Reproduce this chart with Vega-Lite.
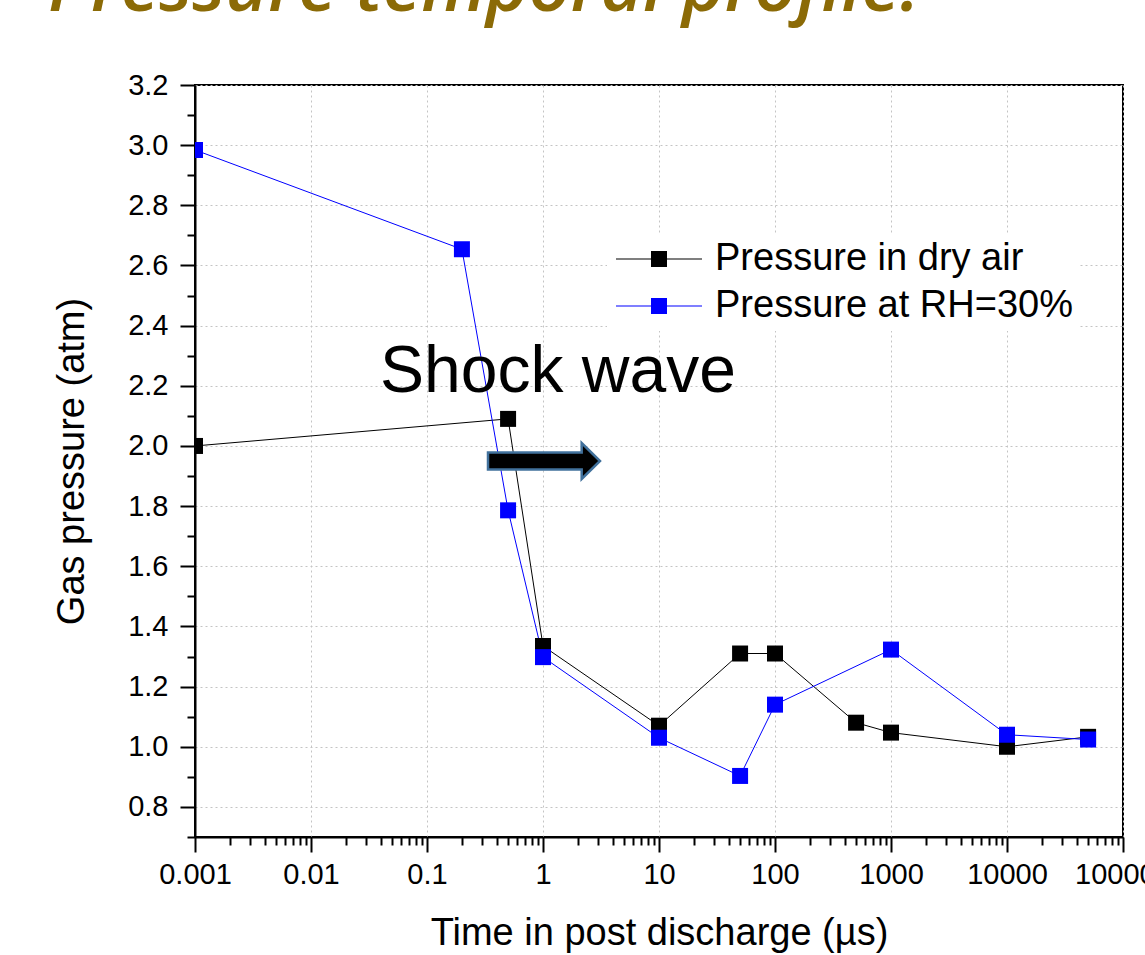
{
  "$schema": "https://vega.github.io/schema/vega-lite/v6.json",
  "width": 928,
  "height": 752,
  "autosize": "none",
  "padding": {"left": 195, "top": 85, "right": 22, "bottom": 118},
  "background": "white",
  "title": {
    "text": "Pressure temporal profile.",
    "anchor": "start",
    "frame": "group",
    "dx": -147,
    "dy": 13,
    "offset": 0,
    "baseline": "alphabetic",
    "font": "Open Sans",
    "fontStyle": "italic",
    "fontWeight": 600,
    "fontSize": 73,
    "color": "#8B6A06"
  },
  "datasets": {
    "series": [
      {"t": 0.001, "p": 2.0, "series": "Pressure in dry air"},
      {"t": 0.5, "p": 2.09, "series": "Pressure in dry air"},
      {"t": 1, "p": 1.335, "series": "Pressure in dry air"},
      {"t": 10, "p": 1.07, "series": "Pressure in dry air"},
      {"t": 50, "p": 1.31, "series": "Pressure in dry air"},
      {"t": 100, "p": 1.31, "series": "Pressure in dry air"},
      {"t": 500, "p": 1.08, "series": "Pressure in dry air"},
      {"t": 1000, "p": 1.047, "series": "Pressure in dry air"},
      {"t": 10000, "p": 1.0, "series": "Pressure in dry air"},
      {"t": 50000, "p": 1.033, "series": "Pressure in dry air"},
      {"t": 0.001, "p": 2.984, "series": "Pressure at RH=30%"},
      {"t": 0.2, "p": 2.654, "series": "Pressure at RH=30%"},
      {"t": 0.5, "p": 1.786, "series": "Pressure at RH=30%"},
      {"t": 1, "p": 1.298, "series": "Pressure at RH=30%"},
      {"t": 10, "p": 1.03, "series": "Pressure at RH=30%"},
      {"t": 50, "p": 0.903, "series": "Pressure at RH=30%"},
      {"t": 100, "p": 1.14, "series": "Pressure at RH=30%"},
      {"t": 1000, "p": 1.323, "series": "Pressure at RH=30%"},
      {"t": 10000, "p": 1.04, "series": "Pressure at RH=30%"},
      {"t": 50000, "p": 1.024, "series": "Pressure at RH=30%"}
    ],
    "notes": [
      {"t": 0.0394, "p": 2.178, "label": "Shock wave"}
    ],
    "arrow": [
      {"t": 1.02, "p": 1.95}
    ]
  },
  "encoding": {
    "x": {
      "field": "t",
      "type": "quantitative",
      "scale": {"type": "log", "domain": [0.001, 100000], "nice": false},
      "axis": {
        "title": "Time in post discharge (µs)",
        "values": [0.001,0.002,0.003,0.004,0.005,0.006,0.007,0.008,0.009,
                   0.01,0.02,0.03,0.04,0.05,0.06,0.07,0.08,0.09,
                   0.1,0.2,0.3,0.4,0.5,0.6,0.7,0.8,0.9,
                   1,2,3,4,5,6,7,8,9,
                   10,20,30,40,50,60,70,80,90,
                   100,200,300,400,500,600,700,800,900,
                   1000,2000,3000,4000,5000,6000,7000,8000,9000,
                   10000,20000,30000,40000,50000,60000,70000,80000,90000,
                   100000],
        "format": "~g",
        "labelExpr": "abs(log(datum.value)/LN10 - round(log(datum.value)/LN10)) < 0.001 ? datum.label : ''",
        "tickSize": {"condition": {"test": "abs(log(datum.value)/LN10 - round(log(datum.value)/LN10)) < 0.001", "value": 15}, "value": 8},
        "gridOpacity": {"condition": {"test": "abs(log(datum.value)/LN10 - round(log(datum.value)/LN10)) < 0.001", "value": 1}, "value": 0},
        "labelPadding": 8,
        "titlePadding": 25,
        "labelFlush": false,
        "labelOverlap": false
      }
    },
    "y": {
      "field": "p",
      "type": "quantitative",
      "scale": {"domain": [0.7, 3.2], "nice": false, "zero": false},
      "axis": {
        "title": "Gas pressure (atm)",
        "values": [0.7,0.8,0.9,1.0,1.1,1.2,1.3,1.4,1.5,1.6,1.7,1.8,1.9,2.0,2.1,2.2,2.3,2.4,2.5,2.6,2.7,2.8,2.9,3.0,3.1,3.2],
        "format": ".1f",
        "labelExpr": "abs(datum.value*5 - round(datum.value*5)) < 0.001 ? datum.label : ''",
        "tickSize": {"condition": {"test": "abs(datum.value*5 - round(datum.value*5)) < 0.001", "value": 15}, "value": 8},
        "gridOpacity": {"condition": {"test": "abs(datum.value*5 - round(datum.value*5)) < 0.001", "value": 1}, "value": 0},
        "labelPadding": 12,
        "titlePadding": 36,
        "labelFlush": false,
        "labelOverlap": false
      }
    }
  },
  "layer": [
    {
      "data": {"name": "series"},
      "mark": {"type": "line", "strokeWidth": 1, "clip": true},
      "encoding": {
        "color": {
          "field": "series",
          "type": "nominal",
          "scale": {"domain": ["Pressure in dry air", "Pressure at RH=30%"], "range": ["#000000", "#0000ff"]},
          "legend": {
            "title": null,
            "orient": "none",
            "legendX": 412,
            "legendY": 149,
            "padding": 6,
            "fillColor": "white",
            "symbolType": "M -1 -0.035 H 1.1875 V -0.5 H 2.1875 V -0.035 H 4.375 V 0.035 H 2.1875 V 0.5 H 1.1875 V 0.035 H -1 Z",
            "symbolSize": 1024,
            "symbolStrokeWidth": 0,
            "symbolOpacity": 1,
            "labelFont": "Liberation Sans",
            "labelFontSize": 38,
            "labelColor": "black",
            "labelOffset": 64,
            "labelLimit": 600,
            "rowPadding": 9
          }
        }
      }
    },
    {
      "data": {"name": "series"},
      "mark": {"type": "point", "shape": "square", "filled": true, "size": 256, "opacity": 1, "clip": true},
      "encoding": {
        "color": {
          "field": "series",
          "type": "nominal",
          "scale": {"domain": ["Pressure in dry air", "Pressure at RH=30%"], "range": ["#000000", "#0000ff"]},
          "legend": {
            "title": null,
            "orient": "none",
            "legendX": 412,
            "legendY": 149,
            "padding": 6,
            "fillColor": "white",
            "symbolType": "M -1 -0.035 H 1.1875 V -0.5 H 2.1875 V -0.035 H 4.375 V 0.035 H 2.1875 V 0.5 H 1.1875 V 0.035 H -1 Z",
            "symbolSize": 1024,
            "symbolStrokeWidth": 0,
            "symbolOpacity": 1,
            "labelFont": "Liberation Sans",
            "labelFontSize": 38,
            "labelColor": "black",
            "labelOffset": 64,
            "labelLimit": 600,
            "rowPadding": 9
          }
        },
        "order": {"field": "series", "sort": "descending"}
      }
    },
    {
      "data": {"name": "notes"},
      "mark": {"type": "text", "align": "left", "baseline": "alphabetic", "font": "Liberation Sans", "fontSize": 66, "color": "black"},
      "encoding": {"text": {"field": "label"}}
    },
    {
      "data": {"name": "arrow"},
      "mark": {
        "type": "point",
        "shape": "M -1 -0.152 L 0.673 -0.152 L 0.673 -0.321 L 1 0 L 0.673 0.321 L 0.673 0.152 L -1 0.152 Z",
        "size": 12544,
        "filled": true,
        "fill": "black",
        "stroke": "#41719C",
        "strokeWidth": 2.5,
        "opacity": 1
      }
    }
  ],
  "config": {
    "view": {"stroke": "black", "strokeWidth": 2},
    "axis": {
      "domainColor": "black",
      "domainWidth": 2,
      "tickColor": "black",
      "tickWidth": 2,
      "grid": true,
      "gridColor": "#c4c4c4",
      "gridDash": [2, 3],
      "gridWidth": 1,
      "labelFont": "Liberation Sans",
      "labelFontSize": 29,
      "labelColor": "black",
      "titleFont": "Liberation Sans",
      "titleFontSize": 38,
      "titleFontWeight": "normal",
      "titleColor": "black"
    }
  }
}
